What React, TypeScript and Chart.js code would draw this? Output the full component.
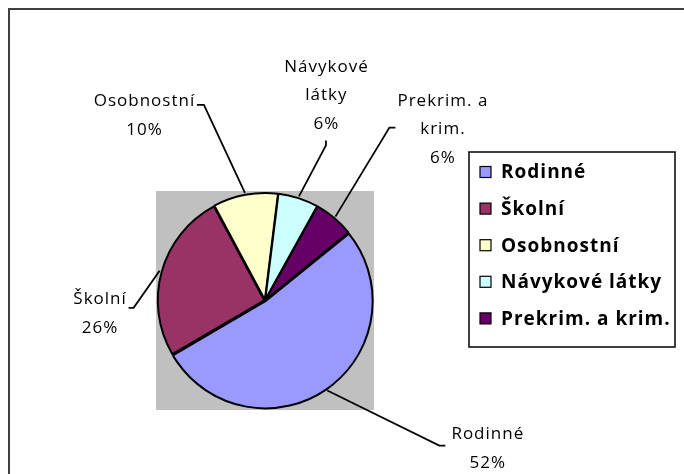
import React, { useEffect, useRef } from "react";
import { Chart, registerables } from "chart.js";

Chart.register(...registerables);

// ---- data ----
const categories = ["Rodinné", "Školní", "Osobnostní", "Návykové látky", "Prekrim. a krim."];
const values = [52.4, 25.6, 9.8, 6.1, 6.1];
const colors = ["#9999FF", "#993366", "#FFFFCC", "#CCFFFF", "#660066"];
const labelLines = [["Rodinné"], ["Školní"], ["Osobnostní"], ["Návykové", "látky"], ["Prekrim. a", "krim."]];

// ---- label layout (relative to each slice's outer edge point) ----
const labelLayout = [
  { e: [112, 55], t: [6, 0], c: [160, 58] },
  { e: [-26, 37], t: [-5, 0], c: [-60, 43] },
  { e: [-41, -88], t: [-7, 0], c: [-101, -77] },
  { e: [27, -51], t: [0, -5], c: [27, -101] },
  { e: [54, -89], t: [6, 0], c: [107, -87] },
];

const LABEL_FONT = '500 17px "Open Sans"';
const LEGEND_FONT = 'bold 19px "Open Sans"';

const decor = {
  id: "decor",
  beforeDatasetsDraw(chart: any) {
    const { ctx, chartArea: a } = chart;
    ctx.save();
    ctx.fillStyle = "#C0C0C0";
    ctx.fillRect(a.left, a.top, a.right - a.left, a.bottom - a.top);
    ctx.restore();
  },
  afterDraw(chart: any) {
    const ctx: CanvasRenderingContext2D = chart.ctx;
    const meta = chart.getDatasetMeta(0);
    const total = values.reduce((s, v) => s + v, 0);
    ctx.save();
    // outer chart border
    ctx.strokeStyle = "#404040";
    ctx.lineWidth = 2;
    ctx.strokeRect(9, 9, 720, 520);

    // data labels with leader lines
    meta.data.forEach((arc: any, i: number) => {
      const p = arc.getProps(["x", "y", "startAngle", "endAngle", "outerRadius"], true);
      const off = arc.options.offset || 0;
      const mid = (p.startAngle + p.endAngle) / 2;
      const px = p.x + Math.cos(mid) * (p.outerRadius + off);
      const py = p.y + Math.sin(mid) * (p.outerRadius + off);
      const L = labelLayout[i];
      const ex = px + L.e[0];
      const ey = py + L.e[1];
      ctx.strokeStyle = "#000";
      ctx.lineWidth = 1.8;
      ctx.beginPath();
      ctx.moveTo(px, py);
      ctx.lineTo(ex, ey);
      ctx.lineTo(ex + L.t[0], ey + L.t[1]);
      ctx.stroke();

      const pct = Math.round((values[i] / total) * 100) + "%";
      const lines = [...labelLines[i], pct];
      const lh = 28.5;
      const cx = px + L.c[0];
      const cy = py + L.c[1];
      ctx.fillStyle = "#000";
      ctx.font = LABEL_FONT;
      (ctx as any).letterSpacing = "1px";
      ctx.textAlign = "center";
      ctx.textBaseline = "middle";
      lines.forEach((t, j) => {
        ctx.fillText(t, cx + 0.5, cy + (j - (lines.length - 1) / 2) * lh);
      });
    });

    // legend
    const bx = 469, by = 152, bw = 206, bh = 195;
    ctx.fillStyle = "#fff";
    ctx.fillRect(bx, by, bw, bh);
    ctx.strokeStyle = "#000";
    ctx.lineWidth = 1.5;
    ctx.strokeRect(bx, by, bw, bh);
    ctx.font = LEGEND_FONT;
    (ctx as any).letterSpacing = "1px";
    ctx.textAlign = "left";
    ctx.textBaseline = "middle";
    categories.forEach((c, i) => {
      const ry = 172 + i * 36.6;
      ctx.fillStyle = colors[i];
      ctx.fillRect(480, ry - 5.5, 11, 11);
      ctx.strokeStyle = "#000";
      ctx.lineWidth = 1.2;
      ctx.strokeRect(480, ry - 5.5, 11, 11);
      ctx.fillStyle = "#000";
      ctx.fillText(c, 501, ry + 1);
    });
    ctx.restore();
  },
};

export default function App() {
  const ref = useRef<HTMLCanvasElement>(null);
  useEffect(() => {
    document.body.style.margin = "0";
    const chart = new Chart(ref.current!, {
      type: "pie",
      data: {
        labels: categories,
        datasets: [
          {
            data: values,
            backgroundColor: colors,
            borderColor: "#000",
            borderWidth: 2,
            offset: 3,
          },
        ],
      },
      options: {
        responsive: false,
        animation: false,
        devicePixelRatio: 1,
        events: [],
        rotation: 51,
        layout: { padding: { left: 156, top: 191, right: 310, bottom: 64 } },
        plugins: { legend: { display: false }, tooltip: { enabled: false } },
      },
      plugins: [decor],
    } as any);
    return () => chart.destroy();
  }, []);
  return (
    <div style={{ width: 684, height: 474, background: "#fff" }}>
      <canvas ref={ref} width={684} height={474} style={{ display: "block" }} />
    </div>
  );
}
